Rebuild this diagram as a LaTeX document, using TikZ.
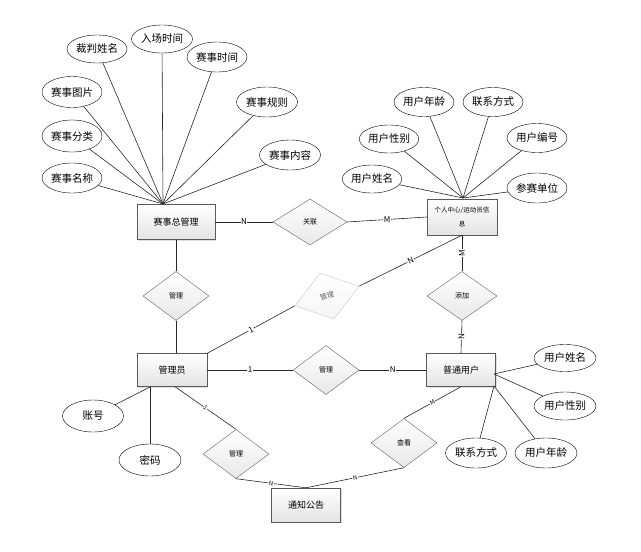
\documentclass[tikz,border=0pt]{standalone}
\usepackage{fontspec}
\setmainfont{Noto Sans CJK SC}
\usetikzlibrary{shapes.geometric,shadows,calc}
\begin{document}
\begin{tikzpicture}[x=1pt,y=-1pt,
 ent/.style={draw=gray!70!black, top color=white, bottom color=gray!22, minimum width=70, minimum height=34, inner sep=1, font=\fontsize{9}{11}\selectfont, drop shadow={opacity=0.25, shadow xshift=1pt, shadow yshift=-1pt}},
 rel/.style={diamond, draw=gray!75!black, top color=white, bottom color=gray!18, minimum width=66, minimum height=49, inner sep=0, aspect=1.35, font=\fontsize{7}{8}\selectfont},
 attr/.style={ellipse, draw=black, fill=white, minimum width=61, minimum height=30, inner sep=0, font=\fontsize{10.5}{12}\selectfont},
 ln/.style={draw=black!85, line width=0.6pt},
 card/.style={fill=white, inner sep=0.6pt, font=\fontsize{8}{9}\selectfont}
]
\useasboundingbox (0,0) rectangle (641,552);

% entities
\node[ent, minimum width=78, minimum height=35] (sz) at (176,222) {赛事总管理};
\node[ent, minimum width=70, minimum height=36, align=center, font=\fontsize{6.5}{14}\selectfont] (gr) at (462,217) {个人中心/运动员信\\息};
\node[ent, minimum height=33] (gly) at (172,370) {管理员};
\node[ent, minimum width=69, minimum height=33] (pt) at (461,370) {普通用户};
\node[ent, minimum width=69] (tz) at (306,505) {通知公告};

% relationships
\node[rel, minimum width=74, minimum height=46] (gl) at (310,222) {关联};
\node[rel] (r1) at (176,296) {管理};
\node[rel, draw=gray!45, bottom color=gray!8, text=gray!70!black, minimum width=67, minimum height=48, rotate=17] (r2) at (327,296) {管理};
\node[rel, minimum width=70] (r3) at (462,296) {添加};
\node[rel] (r4) at (326,370) {管理};
\node[rel] (r5) at (236,454) {管理};
\node[rel] (r6) at (404,443) {查看};

% attributes of 赛事总管理
\node[attr, minimum width=60, minimum height=28] (a1) at (97,49) {裁判姓名};
\node[attr, minimum width=61, minimum height=28] (a2) at (162,39) {入场时间};
\node[attr, minimum width=60, minimum height=30] (a3) at (217,57) {赛事时间};
\node[attr, minimum width=60, minimum height=31] (a4) at (72,92) {赛事图片};
\node[attr, minimum width=61, minimum height=30] (a5) at (267,102) {赛事规则};
\node[attr, minimum width=60, minimum height=32] (a6) at (72,136) {赛事分类};
\node[attr, minimum width=61, minimum height=30] (a7) at (290,155) {赛事内容};
\node[attr, minimum width=60, minimum height=30] (a8) at (72,178) {赛事名称};
\coordinate (c1) at (163,204);
\foreach \a in {a1,a2,a3,a4,a5,a6,a7,a8} \draw[ln] (\a) -- (c1);

% attributes of 个人中心
\node[attr, minimum width=60, minimum height=29] (b1) at (424,102) {用户年龄};
\node[attr, minimum width=60, minimum height=29] (b2) at (493,102) {联系方式};
\node[attr, minimum width=59, minimum height=28] (b3) at (389,139) {用户性别};
\node[attr, minimum width=60, minimum height=29] (b4) at (537,138) {用户编号};
\node[attr, minimum width=59, minimum height=28] (b5) at (372,179) {用户姓名};
\node[attr, minimum width=60, minimum height=30] (b6) at (537,188) {参赛单位};
\coordinate (c2) at (463,198);
\foreach \b in {b1,b2,b3,b4,b5,b6} \draw[ln] (\b) -- (c2);

% attributes of 管理员
\node[attr, minimum width=61, minimum height=32] (d1) at (93,416) {账号};
\node[attr, minimum width=62, minimum height=32] (d2) at (150,460) {密码};
\coordinate (c3) at (150,387);
\draw[ln] (c3) -- (d1);
\draw[ln] (c3) -- (d2);

% attributes of 普通用户
\node[attr, minimum width=62, minimum height=27] (e1) at (565,358) {用户姓名};
\node[attr, minimum width=62, minimum height=28] (e2) at (565,406) {用户性别};
\node[attr, minimum width=61, minimum height=30] (e3) at (476,453) {联系方式};
\node[attr, minimum width=62, minimum height=30] (e4) at (546,453) {用户年龄};
\coordinate (c4) at (494,374);
\coordinate (c5) at (494,386);
\draw[ln] (c4) -- (e1);
\draw[ln] (c4) -- (e2);
\draw[ln] (c5) -- (e3);
\draw[ln] (c5) -- (e4);

% relationship connectors
\draw[ln] (sz.east) -- node[card] {N} (gl.west);
\draw[ln] (gl.east) -- node[card] {M} (gr.west);
\draw[ln] (sz.south -| r1) -- (r1.north);
\draw[ln] (r1.south) -- (r1.south |- gly.north);
\draw[ln] (gr.south) -- node[card, rotate=90] {M} (r3.north);
\draw[ln] (r3.south) -- node[card, rotate=90] {N} (pt.north);
\draw[ln] (gly.north east) -- node[card, sloped] {1} (r2.west);
\draw[ln] (r2.east) -- node[card, sloped] {N} (gr.south);
\draw[ln] (gly.east) -- node[card] {1} (r4.west);
\draw[ln] (r4.east) -- node[card] {N} (pt.west);
\coordinate (c6) at ($(gly.south)+(3,0)$);
\draw[ln] (c6) -- node[card, sloped, font=\fontsize{6}{7}\selectfont] {1} (r5.north);
\draw[ln] (r5.south) -- node[card, sloped, font=\fontsize{6}{7}\selectfont] {N} (tz.north);
\draw[ln] (r6.south) -- node[card, sloped, font=\fontsize{6}{7}\selectfont] {N} (tz.north);
\draw[ln] (pt.south) -- node[card, sloped, font=\fontsize{6}{7}\selectfont] {M} (r6.north);
\end{tikzpicture}
\end{document}
